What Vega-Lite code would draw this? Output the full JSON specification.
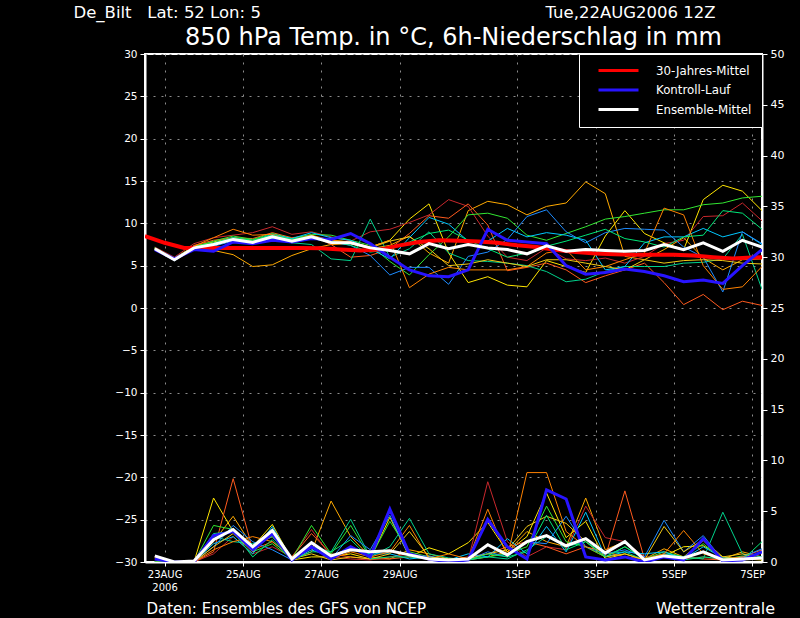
{
"$schema": "https://vega.github.io/schema/vega-lite/v6.json",
"width": 617, "height": 508,
"autosize": {"type": "none"},
"padding": {"left": 145, "top": 54, "right": 38, "bottom": 56},
"background": "#000000",
"config": {
  "view": {"stroke": "#ffffff", "strokeWidth": 2},
  "font": "DejaVu Sans",
  "axis": {"labelFont": "DejaVu Sans", "titleFont": "DejaVu Sans", "titleFontWeight": "normal", "labelColor": "#ffffff", "titleColor": "#ffffff", "domainColor": "#ffffff", "tickColor": "#ffffff", "domainWidth": 2, "tickWidth": 1, "tickSize": 5, "labelFontSize": 10.5}
},
"title": {"text": "Wetterzentrale", "orient": "bottom", "anchor": "end", "frame": "group", "color": "#ffffff", "fontSize": 16, "fontWeight": "normal", "font": "DejaVu Sans", "offset": 0, "dx": 13, "dy": -2, "baseline": "alphabetic"},
"datasets": {
"members": [
{"s":"A","t":"2006-08-22T18:00Z","T":7.0,"P":0},{"s":"A","t":"2006-08-23T06:00Z","T":5.8,"P":0},{"s":"A","t":"2006-08-23T18:00Z","T":7.0,"P":0},{"s":"A","t":"2006-08-24T06:00Z","T":6.8,"P":2.0},{"s":"A","t":"2006-08-24T18:00Z","T":6.3,"P":4.5},{"s":"A","t":"2006-08-25T06:00Z","T":4.9,"P":1.5},{"s":"A","t":"2006-08-25T18:00Z","T":5.1,"P":2.5},{"s":"A","t":"2006-08-26T06:00Z","T":6.2,"P":0.3},{"s":"A","t":"2006-08-26T18:00Z","T":7.0,"P":1.0},{"s":"A","t":"2006-08-27T06:00Z","T":7.5,"P":6.0},{"s":"A","t":"2006-08-27T18:00Z","T":7.6,"P":2.5},{"s":"A","t":"2006-08-28T06:00Z","T":7.0,"P":0.5},{"s":"A","t":"2006-08-28T18:00Z","T":7.4,"P":0.3},{"s":"A","t":"2006-08-29T06:00Z","T":8.5,"P":1.2},{"s":"A","t":"2006-08-29T18:00Z","T":6.5,"P":0.8},{"s":"A","t":"2006-08-30T06:00Z","T":5.3,"P":0.3},{"s":"A","t":"2006-08-30T18:00Z","T":11.5,"P":0.2},{"s":"A","t":"2006-08-31T06:00Z","T":12.6,"P":0.5},{"s":"A","t":"2006-08-31T18:00Z","T":12.2,"P":1.0},{"s":"A","t":"2006-09-01T06:00Z","T":11.0,"P":3.0},{"s":"A","t":"2006-09-01T18:00Z","T":12.0,"P":2.0},{"s":"A","t":"2006-09-02T06:00Z","T":12.4,"P":1.5},{"s":"A","t":"2006-09-02T18:00Z","T":14.9,"P":6.3},{"s":"A","t":"2006-09-03T06:00Z","T":13.5,"P":1.2},{"s":"A","t":"2006-09-03T18:00Z","T":6.1,"P":2.0},{"s":"A","t":"2006-09-04T06:00Z","T":5.7,"P":0.3},{"s":"A","t":"2006-09-04T18:00Z","T":6.9,"P":1.3},{"s":"A","t":"2006-09-05T06:00Z","T":8.3,"P":0.5},{"s":"A","t":"2006-09-05T18:00Z","T":5.9,"P":2.1},{"s":"A","t":"2006-09-06T06:00Z","T":4.5,"P":0.3},{"s":"A","t":"2006-09-06T18:00Z","T":5.7,"P":1.0},{"s":"A","t":"2006-09-07T06:00Z","T":5.8,"P":0.5},
{"s":"B","t":"2006-08-22T18:00Z","T":7.1,"P":0.4},{"s":"B","t":"2006-08-23T06:00Z","T":5.9,"P":0},{"s":"B","t":"2006-08-23T18:00Z","T":7.3,"P":0},{"s":"B","t":"2006-08-24T06:00Z","T":7.8,"P":6.3},{"s":"B","t":"2006-08-24T18:00Z","T":8.3,"P":3.0},{"s":"B","t":"2006-08-25T06:00Z","T":8.0,"P":1.5},{"s":"B","t":"2006-08-25T18:00Z","T":8.6,"P":3.7},{"s":"B","t":"2006-08-26T06:00Z","T":8.1,"P":0.2},{"s":"B","t":"2006-08-26T18:00Z","T":8.5,"P":0.5},{"s":"B","t":"2006-08-27T06:00Z","T":8.0,"P":0.5},{"s":"B","t":"2006-08-27T18:00Z","T":7.8,"P":0.8},{"s":"B","t":"2006-08-28T06:00Z","T":7.2,"P":0.3},{"s":"B","t":"2006-08-28T18:00Z","T":8.0,"P":4.4},{"s":"B","t":"2006-08-29T06:00Z","T":10.5,"P":0.5},{"s":"B","t":"2006-08-29T18:00Z","T":12.3,"P":1.4},{"s":"B","t":"2006-08-30T06:00Z","T":6.5,"P":0.8},{"s":"B","t":"2006-08-30T18:00Z","T":3.0,"P":1.9},{"s":"B","t":"2006-08-31T06:00Z","T":3.7,"P":3.9},{"s":"B","t":"2006-08-31T18:00Z","T":2.7,"P":1.0},{"s":"B","t":"2006-09-01T06:00Z","T":2.5,"P":2.5},{"s":"B","t":"2006-09-01T18:00Z","T":5.6,"P":6.8},{"s":"B","t":"2006-09-02T06:00Z","T":4.9,"P":2.4},{"s":"B","t":"2006-09-02T18:00Z","T":4.2,"P":4.0},{"s":"B","t":"2006-09-03T06:00Z","T":8.5,"P":0.3},{"s":"B","t":"2006-09-03T18:00Z","T":11.5,"P":0.8},{"s":"B","t":"2006-09-04T06:00Z","T":8.8,"P":0.2},{"s":"B","t":"2006-09-04T18:00Z","T":7.7,"P":0.6},{"s":"B","t":"2006-09-05T06:00Z","T":6.9,"P":1.5},{"s":"B","t":"2006-09-05T18:00Z","T":12.8,"P":1.6},{"s":"B","t":"2006-09-06T06:00Z","T":14.5,"P":0.5},{"s":"B","t":"2006-09-06T18:00Z","T":13.8,"P":0.3},{"s":"B","t":"2006-09-07T06:00Z","T":11.5,"P":0.2},
{"s":"C","t":"2006-08-22T18:00Z","T":7.2,"P":0.5},{"s":"C","t":"2006-08-23T06:00Z","T":6.0,"P":0},{"s":"C","t":"2006-08-23T18:00Z","T":7.6,"P":0},{"s":"C","t":"2006-08-24T06:00Z","T":8.3,"P":0.8},{"s":"C","t":"2006-08-24T18:00Z","T":8.6,"P":2.5},{"s":"C","t":"2006-08-25T06:00Z","T":8.9,"P":0.8},{"s":"C","t":"2006-08-25T18:00Z","T":9.6,"P":1.5},{"s":"C","t":"2006-08-26T06:00Z","T":8.7,"P":0.5},{"s":"C","t":"2006-08-26T18:00Z","T":9.0,"P":3.2},{"s":"C","t":"2006-08-27T06:00Z","T":8.4,"P":0.5},{"s":"C","t":"2006-08-27T18:00Z","T":7.9,"P":0.3},{"s":"C","t":"2006-08-28T06:00Z","T":9.0,"P":0.2},{"s":"C","t":"2006-08-28T18:00Z","T":9.3,"P":0.5},{"s":"C","t":"2006-08-29T06:00Z","T":10.1,"P":0.8},{"s":"C","t":"2006-08-29T18:00Z","T":11.0,"P":0.2},{"s":"C","t":"2006-08-30T06:00Z","T":12.8,"P":0.1},{"s":"C","t":"2006-08-30T18:00Z","T":12.0,"P":0.2},{"s":"C","t":"2006-08-31T06:00Z","T":8.5,"P":7.9},{"s":"C","t":"2006-08-31T18:00Z","T":6.0,"P":2.0},{"s":"C","t":"2006-09-01T06:00Z","T":5.6,"P":0.5},{"s":"C","t":"2006-09-01T18:00Z","T":7.1,"P":1.5},{"s":"C","t":"2006-09-02T06:00Z","T":5.8,"P":1.2},{"s":"C","t":"2006-09-02T18:00Z","T":5.6,"P":5.5},{"s":"C","t":"2006-09-03T06:00Z","T":5.9,"P":2.4},{"s":"C","t":"2006-09-03T18:00Z","T":5.3,"P":2.0},{"s":"C","t":"2006-09-04T06:00Z","T":6.1,"P":0.5},{"s":"C","t":"2006-09-04T18:00Z","T":7.6,"P":0.5},{"s":"C","t":"2006-09-05T06:00Z","T":8.0,"P":0.3},{"s":"C","t":"2006-09-05T18:00Z","T":10.8,"P":0.5},{"s":"C","t":"2006-09-06T06:00Z","T":10.9,"P":0.2},{"s":"C","t":"2006-09-06T18:00Z","T":12.4,"P":0.3},{"s":"C","t":"2006-09-07T06:00Z","T":10.3,"P":0.3},
{"s":"D","t":"2006-08-22T18:00Z","T":7.0,"P":0.3},{"s":"D","t":"2006-08-23T06:00Z","T":5.7,"P":0},{"s":"D","t":"2006-08-23T18:00Z","T":7.4,"P":0},{"s":"D","t":"2006-08-24T06:00Z","T":8.0,"P":1.0},{"s":"D","t":"2006-08-24T18:00Z","T":8.3,"P":8.2},{"s":"D","t":"2006-08-25T06:00Z","T":8.2,"P":1.2},{"s":"D","t":"2006-08-25T18:00Z","T":8.9,"P":2.0},{"s":"D","t":"2006-08-26T06:00Z","T":8.3,"P":0.5},{"s":"D","t":"2006-08-26T18:00Z","T":8.6,"P":2.8},{"s":"D","t":"2006-08-27T06:00Z","T":7.5,"P":0.8},{"s":"D","t":"2006-08-27T18:00Z","T":6.0,"P":0.5},{"s":"D","t":"2006-08-28T06:00Z","T":6.2,"P":0.3},{"s":"D","t":"2006-08-28T18:00Z","T":7.0,"P":0.3},{"s":"D","t":"2006-08-29T06:00Z","T":8.8,"P":0.5},{"s":"D","t":"2006-08-29T18:00Z","T":10.9,"P":0.3},{"s":"D","t":"2006-08-30T06:00Z","T":10.6,"P":0.2},{"s":"D","t":"2006-08-30T18:00Z","T":12.3,"P":0.5},{"s":"D","t":"2006-08-31T06:00Z","T":9.8,"P":0.8},{"s":"D","t":"2006-08-31T18:00Z","T":4.4,"P":1.5},{"s":"D","t":"2006-09-01T06:00Z","T":4.8,"P":2.0},{"s":"D","t":"2006-09-01T18:00Z","T":5.3,"P":1.5},{"s":"D","t":"2006-09-02T06:00Z","T":4.5,"P":0.8},{"s":"D","t":"2006-09-02T18:00Z","T":3.0,"P":1.5},{"s":"D","t":"2006-09-03T06:00Z","T":3.8,"P":0.5},{"s":"D","t":"2006-09-03T18:00Z","T":4.5,"P":7.0},{"s":"D","t":"2006-09-04T06:00Z","T":5.3,"P":0.3},{"s":"D","t":"2006-09-04T18:00Z","T":3.0,"P":0.8},{"s":"D","t":"2006-09-05T06:00Z","T":0.4,"P":0.5},{"s":"D","t":"2006-09-05T18:00Z","T":1.6,"P":0.3},{"s":"D","t":"2006-09-06T06:00Z","T":-0.2,"P":0.2},{"s":"D","t":"2006-09-06T18:00Z","T":0.8,"P":0.5},{"s":"D","t":"2006-09-07T06:00Z","T":0.3,"P":1.2},
{"s":"E","t":"2006-08-22T18:00Z","T":7.1,"P":0},{"s":"E","t":"2006-08-23T06:00Z","T":5.9,"P":0},{"s":"E","t":"2006-08-23T18:00Z","T":7.2,"P":0},{"s":"E","t":"2006-08-24T06:00Z","T":7.9,"P":3.6},{"s":"E","t":"2006-08-24T18:00Z","T":8.5,"P":3.2},{"s":"E","t":"2006-08-25T06:00Z","T":8.1,"P":1.0},{"s":"E","t":"2006-08-25T18:00Z","T":8.8,"P":1.8},{"s":"E","t":"2006-08-26T06:00Z","T":8.2,"P":0.3},{"s":"E","t":"2006-08-26T18:00Z","T":8.7,"P":3.6},{"s":"E","t":"2006-08-27T06:00Z","T":8.6,"P":0.8},{"s":"E","t":"2006-08-27T18:00Z","T":8.0,"P":3.6},{"s":"E","t":"2006-08-28T06:00Z","T":7.4,"P":0.4},{"s":"E","t":"2006-08-28T18:00Z","T":5.5,"P":4.0},{"s":"E","t":"2006-08-29T06:00Z","T":3.9,"P":1.0},{"s":"E","t":"2006-08-29T18:00Z","T":6.3,"P":0.5},{"s":"E","t":"2006-08-30T06:00Z","T":8.4,"P":0.2},{"s":"E","t":"2006-08-30T18:00Z","T":11.0,"P":0.3},{"s":"E","t":"2006-08-31T06:00Z","T":11.2,"P":0.5},{"s":"E","t":"2006-08-31T18:00Z","T":10.6,"P":0.8},{"s":"E","t":"2006-09-01T06:00Z","T":8.6,"P":1.5},{"s":"E","t":"2006-09-01T18:00Z","T":8.0,"P":5.5},{"s":"E","t":"2006-09-02T06:00Z","T":8.8,"P":2.0},{"s":"E","t":"2006-09-02T18:00Z","T":9.6,"P":1.5},{"s":"E","t":"2006-09-03T06:00Z","T":10.5,"P":0.5},{"s":"E","t":"2006-09-03T18:00Z","T":10.8,"P":1.5},{"s":"E","t":"2006-09-04T06:00Z","T":11.2,"P":0.3},{"s":"E","t":"2006-09-04T18:00Z","T":11.6,"P":1.0},{"s":"E","t":"2006-09-05T06:00Z","T":11.6,"P":0.5},{"s":"E","t":"2006-09-05T18:00Z","T":12.2,"P":1.8},{"s":"E","t":"2006-09-06T06:00Z","T":12.4,"P":0.2},{"s":"E","t":"2006-09-06T18:00Z","T":13.0,"P":0.6},{"s":"E","t":"2006-09-07T06:00Z","T":13.2,"P":0.3},
{"s":"F","t":"2006-08-22T18:00Z","T":7.0,"P":0},{"s":"F","t":"2006-08-23T06:00Z","T":5.8,"P":0},{"s":"F","t":"2006-08-23T18:00Z","T":7.2,"P":0},{"s":"F","t":"2006-08-24T06:00Z","T":7.6,"P":2.5},{"s":"F","t":"2006-08-24T18:00Z","T":8.0,"P":2.0},{"s":"F","t":"2006-08-25T06:00Z","T":7.8,"P":1.8},{"s":"F","t":"2006-08-25T18:00Z","T":8.2,"P":2.5},{"s":"F","t":"2006-08-26T06:00Z","T":7.7,"P":0.2},{"s":"F","t":"2006-08-26T18:00Z","T":7.5,"P":1.5},{"s":"F","t":"2006-08-27T06:00Z","T":5.8,"P":1.0},{"s":"F","t":"2006-08-27T18:00Z","T":5.6,"P":4.2},{"s":"F","t":"2006-08-28T06:00Z","T":10.5,"P":0.5},{"s":"F","t":"2006-08-28T18:00Z","T":6.0,"P":1.5},{"s":"F","t":"2006-08-29T06:00Z","T":7.0,"P":4.3},{"s":"F","t":"2006-08-29T18:00Z","T":9.0,"P":0.8},{"s":"F","t":"2006-08-30T06:00Z","T":6.5,"P":0.4},{"s":"F","t":"2006-08-30T18:00Z","T":5.6,"P":0.2},{"s":"F","t":"2006-08-31T06:00Z","T":5.5,"P":0.5},{"s":"F","t":"2006-08-31T18:00Z","T":5.3,"P":0.3},{"s":"F","t":"2006-09-01T06:00Z","T":5.0,"P":1.2},{"s":"F","t":"2006-09-01T18:00Z","T":4.3,"P":2.5},{"s":"F","t":"2006-09-02T06:00Z","T":3.1,"P":1.5},{"s":"F","t":"2006-09-02T18:00Z","T":3.4,"P":2.0},{"s":"F","t":"2006-09-03T06:00Z","T":4.3,"P":0.8},{"s":"F","t":"2006-09-03T18:00Z","T":4.9,"P":1.0},{"s":"F","t":"2006-09-04T06:00Z","T":4.9,"P":0.2},{"s":"F","t":"2006-09-04T18:00Z","T":4.9,"P":0.8},{"s":"F","t":"2006-09-05T06:00Z","T":5.3,"P":0.5},{"s":"F","t":"2006-09-05T18:00Z","T":5.4,"P":0.3},{"s":"F","t":"2006-09-06T06:00Z","T":5.8,"P":4.9},{"s":"F","t":"2006-09-06T18:00Z","T":8.7,"P":0.8},{"s":"F","t":"2006-09-07T06:00Z","T":2.2,"P":0.5},
{"s":"G","t":"2006-08-22T18:00Z","T":7.0,"P":0},{"s":"G","t":"2006-08-23T06:00Z","T":5.6,"P":0},{"s":"G","t":"2006-08-23T18:00Z","T":7.0,"P":0},{"s":"G","t":"2006-08-24T06:00Z","T":7.6,"P":1.8},{"s":"G","t":"2006-08-24T18:00Z","T":8.3,"P":2.5},{"s":"G","t":"2006-08-25T06:00Z","T":7.9,"P":0.8},{"s":"G","t":"2006-08-25T18:00Z","T":8.7,"P":3.5},{"s":"G","t":"2006-08-26T06:00Z","T":8.2,"P":0.2},{"s":"G","t":"2006-08-26T18:00Z","T":8.9,"P":1.2},{"s":"G","t":"2006-08-27T06:00Z","T":8.3,"P":0.5},{"s":"G","t":"2006-08-27T18:00Z","T":8.0,"P":1.5},{"s":"G","t":"2006-08-28T06:00Z","T":7.0,"P":0.8},{"s":"G","t":"2006-08-28T18:00Z","T":5.8,"P":0.8},{"s":"G","t":"2006-08-29T06:00Z","T":8.3,"P":0.3},{"s":"G","t":"2006-08-29T18:00Z","T":10.7,"P":0.5},{"s":"G","t":"2006-08-30T06:00Z","T":9.9,"P":0.2},{"s":"G","t":"2006-08-30T18:00Z","T":7.9,"P":0.8},{"s":"G","t":"2006-08-31T06:00Z","T":7.9,"P":0.5},{"s":"G","t":"2006-08-31T18:00Z","T":9.4,"P":2.3},{"s":"G","t":"2006-09-01T06:00Z","T":8.4,"P":0.8},{"s":"G","t":"2006-09-01T18:00Z","T":8.9,"P":3.5},{"s":"G","t":"2006-09-02T06:00Z","T":8.6,"P":1.0},{"s":"G","t":"2006-09-02T18:00Z","T":8.0,"P":4.9},{"s":"G","t":"2006-09-03T06:00Z","T":4.5,"P":0.5},{"s":"G","t":"2006-09-03T18:00Z","T":4.9,"P":1.0},{"s":"G","t":"2006-09-04T06:00Z","T":7.7,"P":0.8},{"s":"G","t":"2006-09-04T18:00Z","T":8.4,"P":1.0},{"s":"G","t":"2006-09-05T06:00Z","T":8.4,"P":0.3},{"s":"G","t":"2006-09-05T18:00Z","T":9.4,"P":1.5},{"s":"G","t":"2006-09-06T06:00Z","T":8.4,"P":0.4},{"s":"G","t":"2006-09-06T18:00Z","T":9.0,"P":0.3},{"s":"G","t":"2006-09-07T06:00Z","T":7.5,"P":0.5},
{"s":"H","t":"2006-08-22T18:00Z","T":6.9,"P":0},{"s":"H","t":"2006-08-23T06:00Z","T":5.6,"P":0},{"s":"H","t":"2006-08-23T18:00Z","T":7.0,"P":0},{"s":"H","t":"2006-08-24T06:00Z","T":7.3,"P":1.5},{"s":"H","t":"2006-08-24T18:00Z","T":7.9,"P":3.6},{"s":"H","t":"2006-08-25T06:00Z","T":7.6,"P":2.0},{"s":"H","t":"2006-08-25T18:00Z","T":8.2,"P":1.2},{"s":"H","t":"2006-08-26T06:00Z","T":7.7,"P":0.2},{"s":"H","t":"2006-08-26T18:00Z","T":8.2,"P":2.0},{"s":"H","t":"2006-08-27T06:00Z","T":7.8,"P":0.3},{"s":"H","t":"2006-08-27T18:00Z","T":7.4,"P":2.6},{"s":"H","t":"2006-08-28T06:00Z","T":6.2,"P":1.2},{"s":"H","t":"2006-08-28T18:00Z","T":3.9,"P":4.6},{"s":"H","t":"2006-08-29T06:00Z","T":4.8,"P":0.5},{"s":"H","t":"2006-08-29T18:00Z","T":4.8,"P":0.6},{"s":"H","t":"2006-08-30T06:00Z","T":2.8,"P":0.2},{"s":"H","t":"2006-08-30T18:00Z","T":6.1,"P":0.2},{"s":"H","t":"2006-08-31T06:00Z","T":6.6,"P":1.0},{"s":"H","t":"2006-08-31T18:00Z","T":8.1,"P":0.5},{"s":"H","t":"2006-09-01T06:00Z","T":10.8,"P":2.0},{"s":"H","t":"2006-09-01T18:00Z","T":11.6,"P":1.8},{"s":"H","t":"2006-09-02T06:00Z","T":9.0,"P":4.5},{"s":"H","t":"2006-09-02T18:00Z","T":7.7,"P":1.5},{"s":"H","t":"2006-09-03T06:00Z","T":8.9,"P":0.8},{"s":"H","t":"2006-09-03T18:00Z","T":9.4,"P":1.2},{"s":"H","t":"2006-09-04T06:00Z","T":9.3,"P":0.5},{"s":"H","t":"2006-09-04T18:00Z","T":9.2,"P":4.1},{"s":"H","t":"2006-09-05T06:00Z","T":7.2,"P":1.0},{"s":"H","t":"2006-09-05T18:00Z","T":6.0,"P":2.6},{"s":"H","t":"2006-09-06T06:00Z","T":1.9,"P":0.2},{"s":"H","t":"2006-09-06T18:00Z","T":9.0,"P":0.5},{"s":"H","t":"2006-09-07T06:00Z","T":7.6,"P":1.3},
{"s":"I","t":"2006-08-22T18:00Z","T":7.0,"P":0},{"s":"I","t":"2006-08-23T06:00Z","T":5.8,"P":0},{"s":"I","t":"2006-08-23T18:00Z","T":7.3,"P":0},{"s":"I","t":"2006-08-24T06:00Z","T":8.3,"P":1.2},{"s":"I","t":"2006-08-24T18:00Z","T":9.3,"P":2.0},{"s":"I","t":"2006-08-25T06:00Z","T":8.6,"P":2.5},{"s":"I","t":"2006-08-25T18:00Z","T":8.7,"P":2.0},{"s":"I","t":"2006-08-26T06:00Z","T":8.0,"P":0.5},{"s":"I","t":"2006-08-26T18:00Z","T":8.6,"P":1.5},{"s":"I","t":"2006-08-27T06:00Z","T":8.0,"P":0.3},{"s":"I","t":"2006-08-27T18:00Z","T":7.8,"P":1.0},{"s":"I","t":"2006-08-28T06:00Z","T":7.2,"P":0.5},{"s":"I","t":"2006-08-28T18:00Z","T":8.0,"P":1.0},{"s":"I","t":"2006-08-29T06:00Z","T":2.4,"P":3.6},{"s":"I","t":"2006-08-29T18:00Z","T":4.0,"P":0.3},{"s":"I","t":"2006-08-30T06:00Z","T":4.8,"P":0.8},{"s":"I","t":"2006-08-30T18:00Z","T":4.5,"P":0.3},{"s":"I","t":"2006-08-31T06:00Z","T":4.5,"P":5.2},{"s":"I","t":"2006-08-31T18:00Z","T":4.5,"P":0.5},{"s":"I","t":"2006-09-01T06:00Z","T":4.9,"P":8.8},{"s":"I","t":"2006-09-01T18:00Z","T":6.5,"P":8.8},{"s":"I","t":"2006-09-02T06:00Z","T":6.9,"P":3.0},{"s":"I","t":"2006-09-02T18:00Z","T":4.5,"P":1.5},{"s":"I","t":"2006-09-03T06:00Z","T":4.9,"P":1.0},{"s":"I","t":"2006-09-03T18:00Z","T":5.7,"P":0.5},{"s":"I","t":"2006-09-04T06:00Z","T":6.5,"P":0.3},{"s":"I","t":"2006-09-04T18:00Z","T":11.8,"P":0.8},{"s":"I","t":"2006-09-05T06:00Z","T":11.0,"P":3.1},{"s":"I","t":"2006-09-05T18:00Z","T":5.0,"P":0.8},{"s":"I","t":"2006-09-06T06:00Z","T":2.2,"P":0.3},{"s":"I","t":"2006-09-06T18:00Z","T":2.5,"P":0.5},{"s":"I","t":"2006-09-07T06:00Z","T":4.9,"P":0.4},
{"s":"J","t":"2006-08-22T18:00Z","T":7.0,"P":0},{"s":"J","t":"2006-08-23T06:00Z","T":5.7,"P":0},{"s":"J","t":"2006-08-23T18:00Z","T":7.1,"P":0},{"s":"J","t":"2006-08-24T06:00Z","T":7.6,"P":1.5},{"s":"J","t":"2006-08-24T18:00Z","T":8.2,"P":2.8},{"s":"J","t":"2006-08-25T06:00Z","T":7.9,"P":1.0},{"s":"J","t":"2006-08-25T18:00Z","T":8.5,"P":3.0},{"s":"J","t":"2006-08-26T06:00Z","T":8.0,"P":0.3},{"s":"J","t":"2006-08-26T18:00Z","T":8.4,"P":0.8},{"s":"J","t":"2006-08-27T06:00Z","T":7.9,"P":0.2},{"s":"J","t":"2006-08-27T18:00Z","T":7.6,"P":0.5},{"s":"J","t":"2006-08-28T06:00Z","T":7.1,"P":0.3},{"s":"J","t":"2006-08-28T18:00Z","T":7.9,"P":0.8},{"s":"J","t":"2006-08-29T06:00Z","T":8.4,"P":3.0},{"s":"J","t":"2006-08-29T18:00Z","T":7.0,"P":0.5},{"s":"J","t":"2006-08-30T06:00Z","T":5.0,"P":0.3},{"s":"J","t":"2006-08-30T18:00Z","T":5.2,"P":0.3},{"s":"J","t":"2006-08-31T06:00Z","T":5.7,"P":0.8},{"s":"J","t":"2006-08-31T18:00Z","T":5.3,"P":1.2},{"s":"J","t":"2006-09-01T06:00Z","T":4.9,"P":3.5},{"s":"J","t":"2006-09-01T18:00Z","T":5.7,"P":4.5},{"s":"J","t":"2006-09-02T06:00Z","T":5.7,"P":3.8},{"s":"J","t":"2006-09-02T18:00Z","T":5.3,"P":2.0},{"s":"J","t":"2006-09-03T06:00Z","T":4.9,"P":0.5},{"s":"J","t":"2006-09-03T18:00Z","T":4.5,"P":0.8},{"s":"J","t":"2006-09-04T06:00Z","T":5.7,"P":0.2},{"s":"J","t":"2006-09-04T18:00Z","T":5.3,"P":3.5},{"s":"J","t":"2006-09-05T06:00Z","T":5.6,"P":1.0},{"s":"J","t":"2006-09-05T18:00Z","T":5.7,"P":2.2},{"s":"J","t":"2006-09-06T06:00Z","T":5.6,"P":0.5},{"s":"J","t":"2006-09-06T18:00Z","T":5.3,"P":0.8},{"s":"J","t":"2006-09-07T06:00Z","T":5.2,"P":0.3},
{"s":"L","t":"2006-08-22T18:00Z","T":7.1,"P":0},{"s":"L","t":"2006-08-23T06:00Z","T":5.8,"P":0},{"s":"L","t":"2006-08-23T18:00Z","T":7.2,"P":0},{"s":"L","t":"2006-08-24T06:00Z","T":7.7,"P":2.8},{"s":"L","t":"2006-08-24T18:00Z","T":8.3,"P":3.0},{"s":"L","t":"2006-08-25T06:00Z","T":8.0,"P":0.5},{"s":"L","t":"2006-08-25T18:00Z","T":8.6,"P":2.2},{"s":"L","t":"2006-08-26T06:00Z","T":8.1,"P":0.2},{"s":"L","t":"2006-08-26T18:00Z","T":8.5,"P":1.0},{"s":"L","t":"2006-08-27T06:00Z","T":7.9,"P":1.0},{"s":"L","t":"2006-08-27T18:00Z","T":7.4,"P":2.2},{"s":"L","t":"2006-08-28T06:00Z","T":6.6,"P":0.3},{"s":"L","t":"2006-08-28T18:00Z","T":6.9,"P":0.5},{"s":"L","t":"2006-08-29T06:00Z","T":7.8,"P":0.5},{"s":"L","t":"2006-08-29T18:00Z","T":8.8,"P":0.3},{"s":"L","t":"2006-08-30T06:00Z","T":9.2,"P":0.2},{"s":"L","t":"2006-08-30T18:00Z","T":8.0,"P":0.2},{"s":"L","t":"2006-08-31T06:00Z","T":7.0,"P":0.8},{"s":"L","t":"2006-08-31T18:00Z","T":6.0,"P":0.5},{"s":"L","t":"2006-09-01T06:00Z","T":6.5,"P":1.0},{"s":"L","t":"2006-09-01T18:00Z","T":7.3,"P":4.6},{"s":"L","t":"2006-09-02T06:00Z","T":7.9,"P":1.2},{"s":"L","t":"2006-09-02T18:00Z","T":8.6,"P":2.0},{"s":"L","t":"2006-09-03T06:00Z","T":9.3,"P":0.5},{"s":"L","t":"2006-09-03T18:00Z","T":8.2,"P":1.5},{"s":"L","t":"2006-09-04T06:00Z","T":7.8,"P":0.3},{"s":"L","t":"2006-09-04T18:00Z","T":7.2,"P":0.5},{"s":"L","t":"2006-09-05T06:00Z","T":8.4,"P":0.2},{"s":"L","t":"2006-09-05T18:00Z","T":8.6,"P":0.5},{"s":"L","t":"2006-09-06T06:00Z","T":11.5,"P":0.3},{"s":"L","t":"2006-09-06T18:00Z","T":11.2,"P":0.2},{"s":"L","t":"2006-09-07T06:00Z","T":9.3,"P":2.0}
],
"ctrl": [
{"s":"Kontroll-Lauf","t":"2006-08-22T18:00Z","T":6.9,"P":0.3},{"s":"Kontroll-Lauf","t":"2006-08-23T06:00Z","T":5.8,"P":0},{"s":"Kontroll-Lauf","t":"2006-08-23T18:00Z","T":6.9,"P":0},{"s":"Kontroll-Lauf","t":"2006-08-24T06:00Z","T":6.7,"P":2.6},{"s":"Kontroll-Lauf","t":"2006-08-24T18:00Z","T":7.8,"P":3.0},{"s":"Kontroll-Lauf","t":"2006-08-25T06:00Z","T":7.6,"P":1.2},{"s":"Kontroll-Lauf","t":"2006-08-25T18:00Z","T":8.0,"P":2.8},{"s":"Kontroll-Lauf","t":"2006-08-26T06:00Z","T":7.8,"P":0.2},{"s":"Kontroll-Lauf","t":"2006-08-26T18:00Z","T":8.2,"P":1.5},{"s":"Kontroll-Lauf","t":"2006-08-27T06:00Z","T":8.1,"P":0.3},{"s":"Kontroll-Lauf","t":"2006-08-27T18:00Z","T":8.8,"P":1.5},{"s":"Kontroll-Lauf","t":"2006-08-28T06:00Z","T":7.6,"P":0.5},{"s":"Kontroll-Lauf","t":"2006-08-28T18:00Z","T":6.0,"P":5.2},{"s":"Kontroll-Lauf","t":"2006-08-29T06:00Z","T":4.5,"P":0.8},{"s":"Kontroll-Lauf","t":"2006-08-29T18:00Z","T":3.8,"P":0.3},{"s":"Kontroll-Lauf","t":"2006-08-30T06:00Z","T":3.7,"P":0},{"s":"Kontroll-Lauf","t":"2006-08-30T18:00Z","T":4.5,"P":0.2},{"s":"Kontroll-Lauf","t":"2006-08-31T06:00Z","T":9.3,"P":4.2},{"s":"Kontroll-Lauf","t":"2006-08-31T18:00Z","T":8.0,"P":1.5},{"s":"Kontroll-Lauf","t":"2006-09-01T06:00Z","T":7.8,"P":0.3},{"s":"Kontroll-Lauf","t":"2006-09-01T18:00Z","T":7.6,"P":7.1},{"s":"Kontroll-Lauf","t":"2006-09-02T06:00Z","T":5.0,"P":6.2},{"s":"Kontroll-Lauf","t":"2006-09-02T18:00Z","T":4.0,"P":0.5},{"s":"Kontroll-Lauf","t":"2006-09-03T06:00Z","T":4.2,"P":0.2},{"s":"Kontroll-Lauf","t":"2006-09-03T18:00Z","T":4.6,"P":0.5},{"s":"Kontroll-Lauf","t":"2006-09-04T06:00Z","T":4.3,"P":0},{"s":"Kontroll-Lauf","t":"2006-09-04T18:00Z","T":3.8,"P":0.5},{"s":"Kontroll-Lauf","t":"2006-09-05T06:00Z","T":3.1,"P":0.2},{"s":"Kontroll-Lauf","t":"2006-09-05T18:00Z","T":3.3,"P":2.3},{"s":"Kontroll-Lauf","t":"2006-09-06T06:00Z","T":2.9,"P":0.1},{"s":"Kontroll-Lauf","t":"2006-09-06T18:00Z","T":5.0,"P":0.2},{"s":"Kontroll-Lauf","t":"2006-09-07T06:00Z","T":6.9,"P":1.0}
],
"mean": [
{"s":"Ensemble-Mittel","t":"2006-08-22T18:00Z","T":7.0,"P":0.6},{"s":"Ensemble-Mittel","t":"2006-08-23T06:00Z","T":5.7,"P":0},{"s":"Ensemble-Mittel","t":"2006-08-23T18:00Z","T":7.1,"P":0.1},{"s":"Ensemble-Mittel","t":"2006-08-24T06:00Z","T":7.5,"P":2.2},{"s":"Ensemble-Mittel","t":"2006-08-24T18:00Z","T":8.1,"P":3.2},{"s":"Ensemble-Mittel","t":"2006-08-25T06:00Z","T":7.75,"P":1.5},{"s":"Ensemble-Mittel","t":"2006-08-25T18:00Z","T":8.4,"P":3.1},{"s":"Ensemble-Mittel","t":"2006-08-26T06:00Z","T":7.9,"P":0.3},{"s":"Ensemble-Mittel","t":"2006-08-26T18:00Z","T":8.4,"P":1.9},{"s":"Ensemble-Mittel","t":"2006-08-27T06:00Z","T":7.75,"P":0.6},{"s":"Ensemble-Mittel","t":"2006-08-27T18:00Z","T":7.7,"P":1.2},{"s":"Ensemble-Mittel","t":"2006-08-28T06:00Z","T":7.1,"P":1.0},{"s":"Ensemble-Mittel","t":"2006-08-28T18:00Z","T":6.8,"P":1.1},{"s":"Ensemble-Mittel","t":"2006-08-29T06:00Z","T":6.4,"P":0.7},{"s":"Ensemble-Mittel","t":"2006-08-29T18:00Z","T":7.6,"P":0.3},{"s":"Ensemble-Mittel","t":"2006-08-30T06:00Z","T":7.0,"P":0.2},{"s":"Ensemble-Mittel","t":"2006-08-30T18:00Z","T":7.5,"P":0.3},{"s":"Ensemble-Mittel","t":"2006-08-31T06:00Z","T":7.1,"P":1.7},{"s":"Ensemble-Mittel","t":"2006-08-31T18:00Z","T":6.9,"P":0.7},{"s":"Ensemble-Mittel","t":"2006-09-01T06:00Z","T":6.4,"P":2.0},{"s":"Ensemble-Mittel","t":"2006-09-01T18:00Z","T":7.35,"P":2.6},{"s":"Ensemble-Mittel","t":"2006-09-02T06:00Z","T":6.7,"P":1.6},{"s":"Ensemble-Mittel","t":"2006-09-02T18:00Z","T":6.9,"P":2.3},{"s":"Ensemble-Mittel","t":"2006-09-03T06:00Z","T":6.8,"P":0.9},{"s":"Ensemble-Mittel","t":"2006-09-03T18:00Z","T":6.7,"P":2.0},{"s":"Ensemble-Mittel","t":"2006-09-04T06:00Z","T":6.8,"P":0.2},{"s":"Ensemble-Mittel","t":"2006-09-04T18:00Z","T":7.5,"P":0.6},{"s":"Ensemble-Mittel","t":"2006-09-05T06:00Z","T":6.9,"P":0.4},{"s":"Ensemble-Mittel","t":"2006-09-05T18:00Z","T":7.7,"P":1.0},{"s":"Ensemble-Mittel","t":"2006-09-06T06:00Z","T":6.7,"P":0.2},{"s":"Ensemble-Mittel","t":"2006-09-06T18:00Z","T":8.0,"P":0.3},{"s":"Ensemble-Mittel","t":"2006-09-07T06:00Z","T":7.2,"P":0.4}
],
"clim": [
{"s":"30-Jahres-Mittel","t":"2006-08-22T12:00Z","T":8.5},{"s":"30-Jahres-Mittel","t":"2006-08-23T00:00Z","T":7.7},{"s":"30-Jahres-Mittel","t":"2006-08-23T12:00Z","T":7.1},{"s":"30-Jahres-Mittel","t":"2006-08-24T00:00Z","T":7.1},{"s":"30-Jahres-Mittel","t":"2006-08-24T12:00Z","T":7.1},{"s":"30-Jahres-Mittel","t":"2006-08-25T00:00Z","T":7.1},{"s":"30-Jahres-Mittel","t":"2006-08-25T12:00Z","T":7.1},{"s":"30-Jahres-Mittel","t":"2006-08-26T00:00Z","T":7.1},{"s":"30-Jahres-Mittel","t":"2006-08-26T12:00Z","T":7.1},{"s":"30-Jahres-Mittel","t":"2006-08-27T00:00Z","T":7.05},{"s":"30-Jahres-Mittel","t":"2006-08-27T12:00Z","T":6.9},{"s":"30-Jahres-Mittel","t":"2006-08-28T00:00Z","T":6.8},{"s":"30-Jahres-Mittel","t":"2006-08-28T12:00Z","T":6.9},{"s":"30-Jahres-Mittel","t":"2006-08-29T00:00Z","T":7.4},{"s":"30-Jahres-Mittel","t":"2006-08-29T12:00Z","T":7.8},{"s":"30-Jahres-Mittel","t":"2006-08-30T00:00Z","T":8.0},{"s":"30-Jahres-Mittel","t":"2006-08-30T12:00Z","T":7.95},{"s":"30-Jahres-Mittel","t":"2006-08-31T00:00Z","T":7.85},{"s":"30-Jahres-Mittel","t":"2006-08-31T12:00Z","T":7.7},{"s":"30-Jahres-Mittel","t":"2006-09-01T00:00Z","T":7.4},{"s":"30-Jahres-Mittel","t":"2006-09-01T12:00Z","T":7.2},{"s":"30-Jahres-Mittel","t":"2006-09-02T00:00Z","T":6.85},{"s":"30-Jahres-Mittel","t":"2006-09-02T12:00Z","T":6.6},{"s":"30-Jahres-Mittel","t":"2006-09-03T00:00Z","T":6.45},{"s":"30-Jahres-Mittel","t":"2006-09-03T12:00Z","T":6.35},{"s":"30-Jahres-Mittel","t":"2006-09-04T00:00Z","T":6.3},{"s":"30-Jahres-Mittel","t":"2006-09-04T12:00Z","T":6.3},{"s":"30-Jahres-Mittel","t":"2006-09-05T00:00Z","T":6.3},{"s":"30-Jahres-Mittel","t":"2006-09-05T12:00Z","T":6.2},{"s":"30-Jahres-Mittel","t":"2006-09-06T00:00Z","T":6.0},{"s":"30-Jahres-Mittel","t":"2006-09-06T12:00Z","T":5.85},{"s":"30-Jahres-Mittel","t":"2006-09-07T00:00Z","T":5.95},{"s":"30-Jahres-Mittel","t":"2006-09-07T06:00Z","T":6.0}
]
},
"encoding": {
  "color": {"field": "s", "type": "nominal",
    "scale": {"domain": ["A","B","C","D","E","F","G","H","I","J","L","30-Jahres-Mittel","Kontroll-Lauf","Ensemble-Mittel"],
              "range": ["#ffaa00","#ffe600","#c8282d","#ff5a1e","#32e632","#00d28c","#00c8ff","#1e8cff","#ff8200","#f0c814","#00e678","#ff0000","#2814ff","#ffffff"]},
    "legend": {"values": ["30-Jahres-Mittel","Kontroll-Lauf","Ensemble-Mittel"], "title": null, "orient": "top-right", "offset": 0, "fillColor": "#000000", "strokeColor": "#ffffff", "padding": 10, "symbolType": "M0.6,0H8.6", "symbolSize": 100, "symbolStrokeWidth": 3, "symbolOpacity": 1, "labelColor": "#ffffff", "labelFontSize": 11.8, "labelFont": "DejaVu Sans", "labelOffset": 54, "rowPadding": 5.5}}
},
"layer": [
  {
    "encoding": {
      "x": {"field": "t", "type": "temporal",
        "scale": {"type": "utc", "domain": [{"year": 2006, "month": 8, "date": 22, "hours": 12, "utc": true}, {"year": 2006, "month": 9, "date": 7, "hours": 6, "utc": true}]},
        "axis": {"values": [{"year": 2006, "month": 8, "date": 23, "utc": true}, {"year": 2006, "month": 8, "date": 25, "utc": true}, {"year": 2006, "month": 8, "date": 27, "utc": true}, {"year": 2006, "month": 8, "date": 29, "utc": true}, {"year": 2006, "month": 9, "date": 1, "utc": true}, {"year": 2006, "month": 9, "date": 3, "utc": true}, {"year": 2006, "month": 9, "date": 5, "utc": true}, {"year": 2006, "month": 9, "date": 7, "utc": true}],
          "labelExpr": "utcFormat(datum.value, '%d%m') == '2308' ? [upper(utcFormat(datum.value, '%-d%b')), '2006'] : upper(utcFormat(datum.value, '%-d%b'))",
          "grid": true, "gridColor": "#8c8c8c", "gridDash": [2, 6], "gridWidth": 1,
          "labelFontSize": 10, "labelPadding": 3, "labelLineHeight": 13, "tickSize": 4, "labelOverlap": false, "labelFlush": false,
          "title": "Daten: Ensembles des GFS von NCEP", "titleFontSize": 15, "titleAlign": "left", "titleAnchor": "start", "titleBaseline": "alphabetic", "titleX": 1, "titleY": 51}},
      "y": {"field": "T", "type": "quantitative", "scale": {"domain": [-30, 30]},
        "axis": {"values": [-30,-25,-20,-15,-10,-5,0,5,10,15,20,25,30], "grid": true, "gridColor": "#8c8c8c", "gridDash": [2, 6], "gridWidth": 1, "labelPadding": 3,
          "title": "De_Bilt\u00a0\u00a0\u00a0Lat: 52 Lon: 5", "titleAngle": 0, "titleAlign": "left", "titleBaseline": "alphabetic", "titleX": -72, "titleY": -37, "titleFontSize": 16.5}}
    },
    "layer": [
      {"data": {"name": "members"}, "mark": {"type": "line", "strokeWidth": 1, "clip": true}},
      {"data": {"name": "clim"}, "mark": {"type": "line", "strokeWidth": 4, "clip": true}},
      {"data": {"name": "ctrl"}, "mark": {"type": "line", "strokeWidth": 3, "clip": true}},
      {"data": {"name": "mean"}, "mark": {"type": "line", "strokeWidth": 3, "clip": true}}
    ]
  },
  {
    "encoding": {
      "x": {"field": "t", "type": "temporal",
        "scale": {"type": "utc", "domain": [{"year": 2006, "month": 8, "date": 22, "hours": 12, "utc": true}, {"year": 2006, "month": 9, "date": 7, "hours": 6, "utc": true}]},
        "axis": {"orient": "top", "labels": false, "ticks": false, "domain": false, "grid": false,
          "title": "850 hPa Temp. in °C, 6h-Niederschlag in mm", "titleFontSize": 24, "titleAlign": "center", "titleBaseline": "alphabetic", "titleX": 308, "titleY": -10}},
      "y": {"field": "P", "type": "quantitative", "scale": {"domain": [0, 50]},
        "axis": {"orient": "right", "values": [0,5,10,15,20,25,30,35,40,45,50], "grid": false, "labelPadding": 3, "labelFontSize": 11,
          "title": "Tue,22AUG2006 12Z", "titleAngle": 0, "titleAlign": "left", "titleBaseline": "alphabetic", "titleX": -217, "titleY": -37, "titleFontSize": 16.5}}
    },
    "layer": [
      {"data": {"name": "members"}, "mark": {"type": "line", "strokeWidth": 1, "clip": true}},
      {"data": {"name": "ctrl"}, "mark": {"type": "line", "strokeWidth": 3, "clip": true}},
      {"data": {"name": "mean"}, "mark": {"type": "line", "strokeWidth": 3, "clip": true}}
    ]
  }
],
"resolve": {"scale": {"y": "independent"}, "axis": {"x": "independent", "y": "independent"}}
}
